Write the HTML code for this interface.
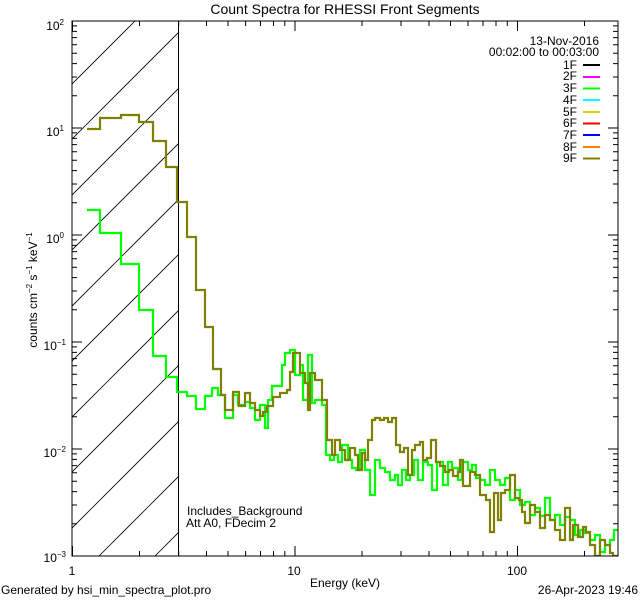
<!DOCTYPE html>
<html><head><meta charset="utf-8"><style>
html,body{margin:0;padding:0;background:#fff;}
svg{display:block;font-family:"Liberation Sans","DejaVu Sans",sans-serif;}
</style></head><body>
<svg width="640" height="600" viewBox="0 0 640 600" xmlns="http://www.w3.org/2000/svg">
<rect width="640" height="600" fill="#fff"/>
<defs><clipPath id="c"><rect x="72" y="21" width="546" height="535"/></clipPath><clipPath id="h"><rect x="72" y="21" width="106.5" height="535"/></clipPath></defs>
<g clip-path="url(#h)" stroke="#000" stroke-width="0.8">
<line x1="-400" y1="556" x2="135" y2="21"/>
<line x1="-345" y1="556" x2="190" y2="21"/>
<line x1="-289" y1="556" x2="246" y2="21"/>
<line x1="-234" y1="556" x2="301" y2="21"/>
<line x1="-178" y1="556" x2="357" y2="21"/>
<line x1="-123" y1="556" x2="412" y2="21"/>
<line x1="-67" y1="556" x2="468" y2="21"/>
<line x1="-12" y1="556" x2="523" y2="21"/>
<line x1="44" y1="556" x2="579" y2="21"/>
<line x1="99" y1="556" x2="634" y2="21"/>
<line x1="155" y1="556" x2="690" y2="21"/>
</g>
<line x1="178.5" y1="21" x2="178.5" y2="556" stroke="#000" stroke-width="1"/>
<g clip-path="url(#c)" fill="none" stroke-width="2.2" stroke-linejoin="miter">
<path stroke="#00ff00" d="M87 210H100V233H121V264H139V310H153V356H166V377H177V392H187V396H196V409H205V396H212V388H218V395H225V418H233V395H238V405H245V402H250V408H255V420H260V405H265V428H268V400H272V386H282V365H285V353H290V350H295V375H300V365H303V400H308V355H312V403H315V400H322V405H326V455H330V460H334V455H338V462H342V445H348V460H352V468H356V470H360V450H365V470H370V495H375V460H380V468H385V472H390V480H395V475H398V485H402V470H406V480H410V475H414V460H418V480H423V462H428V465H432V490H437V462H443V485H448V462H452V468H458V480H462V462H468V470H472V465H476V478H480V480H485V485H490V470H495V480H500V485H505V478H510V500H515V490H520V505H525V502H530V515H535V508H540V516H545V498H550V520H555V515H560V525H565V517H570V520H575V535H580V530H585V533H590V540H595V535H600V552H605V545H610V540H614V530H618"/>
<path stroke="#808000" d="M87 129H100V118H121V115H139V122H153V141H166V167H177V202H187V237H196V290H205V327H213V369H221V395H225V410H233V392H239V406H245V393H250V403H255V410H260V416H263V412H267V406H273V397H280V393H287V390H290V372H293V353H300V373H305V383H308V410H310V373H315V380H322V400H327V440H332V455H335V440H340V450H345V460H350V448H355V455H358V470H362V453H365V460H368V440H372V420H375V418H380V420H384V418H388V422H392V418H396V445H400V452H404V448H408V475H412V450H415V445H420V442H423V460H427V458H431V440H436V462H440V466H445V472H449V470H453V476H458V472H460V460H463V486H470V472H475V475H480V495H486V500H490V532H494V493H498V520H501V493H505V490H510V475H515V498H519V500H522V512H525V523H530V505H535V512H540V528H545V515H550V520H555V530H560V540H565V508H570V540H573V525H578V537H583V527H586V532H590V545H595V556H600V540H605V545H610V553H613V556H618"/>
</g>
<rect x="72" y="21" width="546" height="535" fill="none" stroke="#000" stroke-width="1"/>
<g stroke="#000" stroke-width="1">
<path d="M72.5 556v-10M72.5 21v10M295 556v-10M295 21v10M517.5 556v-10M517.5 21v10"/>
<path d="M139.5 556v-5M178.7 556v-5M206.5 556v-5M228 556v-5M245.6 556v-5M260.5 556v-5M273.5 556v-5M284.8 556v-5M362 556v-5M401 556v-5M429 556v-5M450.5 556v-5M468 556v-5M483 556v-5M496 556v-5M507.3 556v-5M584.5 556v-5"/>
<path d="M139.5 21v5M178.7 21v5M206.5 21v5M228 21v5M245.6 21v5M260.5 21v5M273.5 21v5M284.8 21v5M362 21v5M401 21v5M429 21v5M450.5 21v5M468 21v5M483 21v5M496 21v5M507.3 21v5M584.5 21v5"/>
<path d="M72 21h10M72 128h10M72 235h10M72 342h10M72 449h10M72 556h10M618 21h-10M618 128h-10M618 235h-10M618 342h-10M618 449h-10M618 556h-10"/>
<path id="mt" d="M72 95.8h5M72 77h5M72 63.6h5M72 53.2h5M72 44.7h5M72 37.6h5M72 31.4h5M72 25.9h5M618 95.8h-5M618 77h-5M618 63.6h-5M618 53.2h-5M618 44.7h-5M618 37.6h-5M618 31.4h-5M618 25.9h-5"/>
<use href="#mt" y="107"/><use href="#mt" y="214"/><use href="#mt" y="321"/><use href="#mt" y="428"/>
</g>
<g font-size="12" fill="#000">
<text x="345" y="14" text-anchor="middle" font-size="14">Count Spectra for RHESSI Front Segments</text>
<g text-anchor="end">
<text x="64" y="30">10<tspan dy="-5" font-size="8">2</tspan></text>
<text x="64" y="136">10<tspan dy="-5" font-size="8">1</tspan></text>
<text x="64" y="243">10<tspan dy="-5" font-size="8">0</tspan></text>
<text x="66" y="350">10<tspan dy="-5" font-size="8">−1</tspan></text>
<text x="66" y="457">10<tspan dy="-5" font-size="8">−2</tspan></text>
<text x="66" y="562">10<tspan dy="-5" font-size="8">−3</tspan></text>
</g>
<text transform="translate(37,290) rotate(-90)" text-anchor="middle">counts cm<tspan dy="-5" font-size="8">−2</tspan><tspan dy="5"> s</tspan><tspan dy="-5" font-size="8">−1</tspan><tspan dy="5"> keV</tspan><tspan dy="-5" font-size="8">−1</tspan></text>
<text x="72" y="575" text-anchor="middle">1</text>
<text x="294" y="575" text-anchor="middle">10</text>
<text x="517" y="575" text-anchor="middle">100</text>
<text x="345" y="587" text-anchor="middle">Energy (keV)</text>
<text x="1" y="594">Generated by hsi_min_spectra_plot.pro</text>
<text x="638" y="594" text-anchor="end">26-Apr-2023 19:46</text>
<text x="187" y="515">Includes_Background</text>
<text x="186" y="527">Att A0, FDecim 2</text>
<g text-anchor="end">
<text x="599" y="45">13-Nov-2016</text>
<text x="599" y="56">00:02:00 to 00:03:00</text>
<text x="577" y="69">1F</text><text x="577" y="80">2F</text><text x="577" y="92">3F</text>
<text x="577" y="104">4F</text><text x="577" y="116">5F</text><text x="577" y="127">6F</text>
<text x="577" y="139">7F</text><text x="577" y="151">8F</text><text x="577" y="162">9F</text>
</g>
</g>
<g stroke-width="2">
<line x1="583" x2="600" y1="65" y2="65" stroke="#000"/>
<line x1="583" x2="600" y1="77" y2="77" stroke="#ff00ff"/>
<line x1="583" x2="600" y1="88.5" y2="88.5" stroke="#00ff00"/>
<line x1="583" x2="600" y1="100" y2="100" stroke="#00ffff"/>
<line x1="583" x2="600" y1="112" y2="112" stroke="#d8d000"/>
<line x1="583" x2="600" y1="123.5" y2="123.5" stroke="#ff0000"/>
<line x1="583" x2="600" y1="135" y2="135" stroke="#0000ff"/>
<line x1="583" x2="600" y1="147" y2="147" stroke="#ff8000"/>
<line x1="583" x2="600" y1="158.5" y2="158.5" stroke="#808000"/>
</g>
</svg>
</body></html>
